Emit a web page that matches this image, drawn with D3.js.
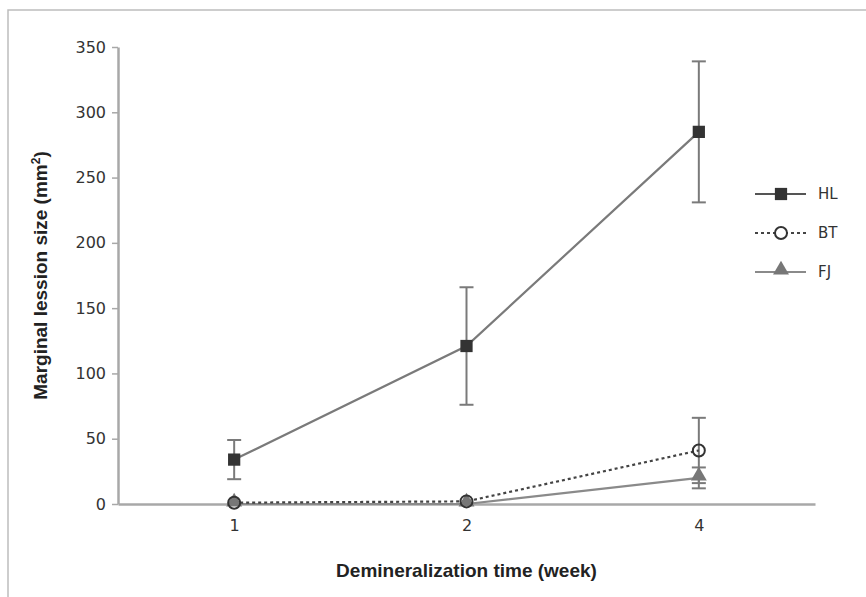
<!DOCTYPE html>
<html>
<head>
<meta charset="utf-8">
<script src="https://cdn.jsdelivr.net/npm/d3@7"></script>
<style>
  body { margin: 0; background: #fff; }
  svg { display: block; }
</style>
</head>
<body>
<div id="chart"></div>
<script>
// data
const weeks = ["1", "2", "4"];
const yTicks = [0, 50, 100, 150, 200, 250, 300, 350];
const hlMean = [34, 121, 285];
const hlErr = [15, 45, 54];
const btMean = [1, 2, 41];
const btErr = [0, 0, 25];
const fjMean = [0, 0, 20];
const fjErr = [0, 0, 8];
const seriesNames = ["HL", "BT", "FJ"];

const W = 866, H = 597;

const svg = d3.select("#chart").append("svg")
  .attr("width", W)
  .attr("height", H);

// outer frame (left and top edge only)
svg.append("path")
  .attr("d", "M8," + H + "V10H" + W)
  .attr("fill", "none")
  .attr("stroke", "#bdbdbd")
  .attr("stroke-width", 1.5);

const x = d3.scalePoint().domain(weeks).range([118, 815]).padding(0.5);
const y = d3.scaleLinear().domain([0, 350]).range([504, 47]);

// y axis
const yAxis = svg.append("g")
  .attr("transform", "translate(118,0)")
  .call(d3.axisLeft(y).tickValues(yTicks).tickSize(6).tickPadding(6).tickSizeOuter(0));
yAxis.select(".domain").attr("stroke", "#a8a8a8").attr("stroke-width", 2.5);
yAxis.selectAll(".tick line").attr("stroke", "#a8a8a8").attr("stroke-width", 1.5);
yAxis.selectAll("text")
  .attr("font-family", "DejaVu Sans, sans-serif")
  .attr("font-size", 16)
  .attr("fill", "#333");

// x axis
const xAxis = svg.append("g")
  .attr("transform", "translate(0," + y(0) + ")")
  .call(d3.axisBottom(x).tickSize(0).tickPadding(16).tickSizeOuter(0));
xAxis.select(".domain").attr("stroke", "#a8a8a8").attr("stroke-width", 2.5);
xAxis.selectAll("text")
  .attr("font-family", "DejaVu Sans, sans-serif")
  .attr("font-size", 16)
  .attr("fill", "#333");

// axis titles
svg.append("text")
  .attr("transform", "translate(47," + ((y(0) + y(350)) / 2) + ") rotate(-90)")
  .attr("text-anchor", "middle")
  .attr("font-family", "Liberation Sans, Arial, sans-serif")
  .attr("font-weight", "bold")
  .attr("font-size", 19)
  .attr("fill", "#222")
  .html("Marginal lession size (mm<tspan baseline-shift='super' font-size='12'>2</tspan>)");

svg.append("text")
  .attr("x", (118 + 815) / 2)
  .attr("y", 577)
  .attr("text-anchor", "middle")
  .attr("font-family", "Liberation Sans, Arial, sans-serif")
  .attr("font-weight", "bold")
  .attr("font-size", 19)
  .attr("fill", "#222")
  .text("Demineralization time (week)");

const line = d3.line()
  .x(function(d, i) { return x(weeks[i]); })
  .y(function(d) { return y(d); });

function errorBars(mean, err) {
  const g = svg.append("g").attr("stroke", "#7a7a7a").attr("stroke-width", 2);
  mean.forEach(function(m, i) {
    if (err[i] <= 0) return;
    const cx = x(weeks[i]);
    g.append("line").attr("x1", cx).attr("x2", cx).attr("y1", y(m - err[i])).attr("y2", y(m + err[i]));
    g.append("line").attr("x1", cx - 7).attr("x2", cx + 7).attr("y1", y(m - err[i])).attr("y2", y(m - err[i]));
    g.append("line").attr("x1", cx - 7).attr("x2", cx + 7).attr("y1", y(m + err[i])).attr("y2", y(m + err[i]));
  });
}

errorBars(hlMean, hlErr);
errorBars(btMean, btErr);
errorBars(fjMean, fjErr);

// FJ line
svg.append("path").datum(fjMean)
  .attr("d", line)
  .attr("fill", "none")
  .attr("stroke", "#8a8a8a")
  .attr("stroke-width", 2.2);

// BT dotted line
svg.append("path").datum(btMean)
  .attr("d", line)
  .attr("fill", "none")
  .attr("stroke", "#444")
  .attr("stroke-width", 2.2)
  .attr("stroke-dasharray", "3,3");

// HL line
svg.append("path").datum(hlMean)
  .attr("d", line)
  .attr("fill", "none")
  .attr("stroke", "#7a7a7a")
  .attr("stroke-width", 2.2);

const triangle = d3.symbol().type(d3.symbolTriangle).size(110);
const square = d3.symbol().type(d3.symbolSquare).size(150);

svg.append("g").selectAll("path").data(fjMean).enter().append("path")
  .attr("d", triangle)
  .attr("transform", function(d, i) { return "translate(" + x(weeks[i]) + "," + (y(d) - 2) + ")"; })
  .attr("fill", "#777");

svg.append("g").selectAll("circle").data(btMean).enter().append("circle")
  .attr("cx", function(d, i) { return x(weeks[i]); })
  .attr("cy", function(d) { return y(d); })
  .attr("r", 6)
  .attr("fill", "none")
  .attr("stroke", "#333")
  .attr("stroke-width", 2);

svg.append("g").selectAll("path").data(hlMean).enter().append("path")
  .attr("d", square)
  .attr("transform", function(d, i) { return "translate(" + x(weeks[i]) + "," + y(d) + ")"; })
  .attr("fill", "#333");

// legend
const legendY = [194, 233, 272];
const leg = svg.append("g");
seriesNames.forEach(function(name, i) {
  const ly = legendY[i];
  leg.append("line")
    .attr("x1", 755).attr("x2", 806).attr("y1", ly).attr("y2", ly)
    .attr("stroke", i == 1 ? "#444" : (i == 0 ? "#555" : "#8a8a8a"))
    .attr("stroke-width", 2)
    .attr("stroke-dasharray", i == 1 ? "3,3" : null);
  if (i == 0) {
    leg.append("path").attr("d", square).attr("transform", "translate(781," + ly + ")").attr("fill", "#333");
  } else if (i == 1) {
    leg.append("circle").attr("cx", 781).attr("cy", ly).attr("r", 6)
      .attr("fill", "#fff").attr("stroke", "#333").attr("stroke-width", 2);
  } else {
    leg.append("path").attr("d", triangle).attr("transform", "translate(781," + (ly - 2) + ")").attr("fill", "#777");
  }
  leg.append("text")
    .attr("x", 818).attr("y", ly + 5)
    .attr("font-family", "DejaVu Sans, sans-serif")
    .attr("font-size", 15)
    .attr("fill", "#333")
    .text(name);
});
</script>
</body>
</html>
